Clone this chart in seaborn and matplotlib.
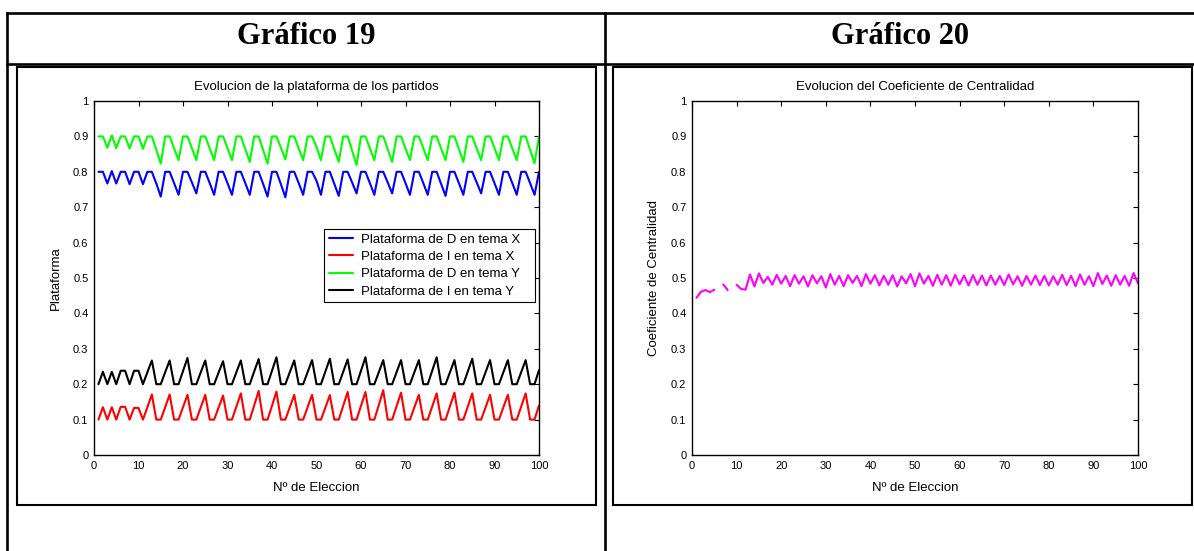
import numpy as np
import pandas as pd
import matplotlib
matplotlib.use("Agg")
import matplotlib.pyplot as plt
import seaborn as sns
from matplotlib.lines import Line2D
from matplotlib.patches import Rectangle

# ---------------- data ----------------
elecciones = list(range(1, 101))

plat_D_X = [0.800, 0.800, 0.767, 0.802, 0.767, 0.800, 0.800, 0.765, 0.800, 0.800,
            0.765, 0.800, 0.800, 0.767, 0.730, 0.800, 0.800, 0.768, 0.735, 0.800,
            0.800, 0.770, 0.739, 0.800, 0.800, 0.768, 0.735, 0.800, 0.800, 0.768,
            0.735, 0.800, 0.800, 0.768, 0.735, 0.800, 0.800, 0.766, 0.730, 0.800,
            0.800, 0.765, 0.728, 0.800, 0.800, 0.768, 0.735, 0.800, 0.800, 0.775,
            0.735, 0.800, 0.800, 0.766, 0.732, 0.800, 0.800, 0.770, 0.739, 0.800,
            0.800, 0.768, 0.735, 0.800, 0.800, 0.770, 0.739, 0.800, 0.800, 0.768,
            0.735, 0.800, 0.800, 0.768, 0.735, 0.800, 0.800, 0.766, 0.732, 0.800,
            0.800, 0.768, 0.735, 0.800, 0.800, 0.770, 0.739, 0.800, 0.800, 0.768,
            0.735, 0.800, 0.800, 0.768, 0.735, 0.800, 0.800, 0.768, 0.735, 0.800]

plat_I_X = [0.100, 0.135, 0.100, 0.135, 0.100, 0.136, 0.136, 0.100, 0.133, 0.133,
            0.100, 0.135, 0.171, 0.100, 0.100, 0.135, 0.171, 0.100, 0.100, 0.135,
            0.170, 0.100, 0.100, 0.135, 0.170, 0.100, 0.100, 0.134, 0.168, 0.100,
            0.100, 0.137, 0.174, 0.100, 0.100, 0.140, 0.181, 0.100, 0.100, 0.139,
            0.179, 0.100, 0.100, 0.135, 0.170, 0.100, 0.100, 0.135, 0.170, 0.100,
            0.100, 0.134, 0.169, 0.100, 0.100, 0.139, 0.178, 0.100, 0.100, 0.139,
            0.178, 0.100, 0.100, 0.141, 0.183, 0.100, 0.100, 0.138, 0.176, 0.100,
            0.100, 0.135, 0.170, 0.100, 0.100, 0.137, 0.174, 0.100, 0.100, 0.138,
            0.176, 0.100, 0.100, 0.137, 0.174, 0.100, 0.100, 0.135, 0.170, 0.100,
            0.100, 0.135, 0.170, 0.100, 0.100, 0.137, 0.174, 0.100, 0.100, 0.140]

plat_D_Y = [0.900, 0.900, 0.868, 0.903, 0.867, 0.900, 0.900, 0.866, 0.900, 0.900,
            0.865, 0.900, 0.900, 0.862, 0.823, 0.900, 0.900, 0.866, 0.833, 0.900,
            0.900, 0.867, 0.833, 0.900, 0.900, 0.866, 0.833, 0.900, 0.900, 0.867,
            0.833, 0.900, 0.900, 0.864, 0.828, 0.900, 0.900, 0.862, 0.823, 0.900,
            0.900, 0.868, 0.835, 0.900, 0.900, 0.866, 0.833, 0.900, 0.900, 0.870,
            0.833, 0.900, 0.900, 0.864, 0.828, 0.900, 0.900, 0.860, 0.819, 0.900,
            0.900, 0.866, 0.833, 0.900, 0.900, 0.864, 0.828, 0.900, 0.900, 0.866,
            0.833, 0.900, 0.900, 0.867, 0.833, 0.900, 0.900, 0.866, 0.833, 0.900,
            0.900, 0.864, 0.828, 0.900, 0.900, 0.866, 0.833, 0.900, 0.900, 0.867,
            0.833, 0.900, 0.900, 0.866, 0.833, 0.900, 0.900, 0.862, 0.824, 0.900]

plat_I_Y = [0.200, 0.235, 0.200, 0.235, 0.200, 0.238, 0.238, 0.200, 0.238, 0.238,
            0.200, 0.234, 0.267, 0.200, 0.200, 0.234, 0.267, 0.200, 0.200, 0.237,
            0.274, 0.200, 0.200, 0.234, 0.267, 0.200, 0.200, 0.233, 0.265, 0.200,
            0.200, 0.234, 0.267, 0.200, 0.200, 0.236, 0.271, 0.200, 0.200, 0.238,
            0.276, 0.200, 0.200, 0.234, 0.267, 0.200, 0.200, 0.234, 0.268, 0.200,
            0.200, 0.236, 0.272, 0.200, 0.200, 0.235, 0.270, 0.200, 0.200, 0.238,
            0.276, 0.200, 0.200, 0.234, 0.268, 0.200, 0.200, 0.234, 0.268, 0.200,
            0.200, 0.234, 0.268, 0.200, 0.200, 0.238, 0.276, 0.200, 0.200, 0.234,
            0.268, 0.200, 0.200, 0.236, 0.272, 0.200, 0.200, 0.234, 0.268, 0.200,
            0.200, 0.234, 0.268, 0.200, 0.200, 0.234, 0.268, 0.200, 0.200, 0.240]

centralidad = [0.444, 0.461, 0.466, 0.460, 0.467, np.nan, 0.482, 0.466, np.nan, 0.481,
               0.469, 0.467, 0.510, 0.476, 0.513, 0.486, 0.503, 0.481, 0.509, 0.484,
               0.506, 0.477, 0.508, 0.484, 0.505, 0.476, 0.508, 0.485, 0.505, 0.473,
               0.511, 0.481, 0.506, 0.477, 0.508, 0.486, 0.506, 0.477, 0.511, 0.484,
               0.508, 0.479, 0.506, 0.481, 0.508, 0.476, 0.505, 0.485, 0.511, 0.477,
               0.513, 0.484, 0.506, 0.478, 0.509, 0.481, 0.508, 0.478, 0.509, 0.482,
               0.507, 0.479, 0.508, 0.481, 0.507, 0.479, 0.507, 0.481, 0.506, 0.480,
               0.510, 0.482, 0.505, 0.478, 0.506, 0.481, 0.507, 0.480, 0.506, 0.479,
               0.505, 0.481, 0.509, 0.480, 0.506, 0.477, 0.510, 0.481, 0.505, 0.477,
               0.514, 0.483, 0.507, 0.478, 0.508, 0.481, 0.506, 0.478, 0.514, 0.485]

series_labels = ["Plataforma de D en tema X", "Plataforma de I en tema X",
                 "Plataforma de D en tema Y", "Plataforma de I en tema Y"]
series_colors = ["#0000ff", "#ff0000", "#00ff00", "#000000"]
x_ticks = [0, 10, 20, 30, 40, 50, 60, 70, 80, 90, 100]
y_ticks = [0, 0.1, 0.2, 0.3, 0.4, 0.5, 0.6, 0.7, 0.8, 0.9, 1.0]
y_tick_labels = ["0", "0.1", "0.2", "0.3", "0.4", "0.5", "0.6", "0.7", "0.8", "0.9", "1"]
x_tick_labels = [str(v) for v in x_ticks]

# ---------------- style ----------------
sns.set_style("white")
plt.rcParams['font.family'] = ['Liberation Sans', 'DejaVu Sans']
plt.rcParams['axes.linewidth'] = 1.0
plt.rcParams['axes.edgecolor'] = 'black'
plt.rcParams['text.color'] = 'black'
plt.rcParams['axes.labelcolor'] = 'black'
plt.rcParams['xtick.color'] = 'black'
plt.rcParams['ytick.color'] = 'black'

W, H = 1194, 551
fig = plt.figure(figsize=(W / 100, H / 100), dpi=100)
fig.patch.set_facecolor('white')


def fx(x):
    return x / W


def fy(y):
    return 1 - y / H


# table lines
tlw = 1.9
for (x0, y0, x1, y1) in [(7, 13, 1194, 13), (7, 64, 1194, 64),
                         (7, 13, 7, 551), (605, 13, 605, 551)]:
    fig.add_artist(Line2D([fx(x0), fx(x1)], [fy(y0), fy(y1)], color='black',
                          lw=tlw, transform=fig.transFigure, solid_capstyle='projecting'))

# figure boxes inside cells
for (x0, y0, x1, y1) in [(17, 67, 596, 505), (613, 67, 1192, 505)]:
    fig.add_artist(Rectangle((fx(x0), fy(y1)), fx(x1) - fx(x0), fy(y0) - fy(y1),
                             fill=False, edgecolor='black', lw=1.5,
                             transform=fig.transFigure))

# header texts
for cx, txt in [(306, "Gráfico 19"), (900, "Gráfico 20")]:
    fig.text(fx(cx), fy(37), txt, ha='center', va='center', color='black',
             family=['Liberation Serif', 'DejaVu Serif'], weight='bold', size=22)

# axes
ax1 = fig.add_axes([fx(94), fy(455), (539 - 94) / W, (455 - 101) / H])
ax2 = fig.add_axes([fx(692), fy(455), (1138 - 692) / W, (455 - 101) / H])

# left plot data
long = pd.DataFrame({
    "eleccion": elecciones * 4,
    "valor": plat_D_X + plat_I_X + plat_D_Y + plat_I_Y,
    "serie": sum([[lab] * len(elecciones) for lab in series_labels], []),
})
sns.lineplot(data=long, x="eleccion", y="valor", hue="serie",
             hue_order=series_labels, palette=dict(zip(series_labels, series_colors)),
             lw=1.5, ax=ax1, estimator=None)

# right plot data: split into segments at missing values
cent = pd.DataFrame({"eleccion": elecciones, "centralidad": centralidad})
cent["seg"] = cent["centralidad"].isna().cumsum()
sns.lineplot(data=cent, x="eleccion", y="centralidad", units="seg", estimator=None,
             color="#ff00ff", lw=1.5, ax=ax2, legend=False)

fs_text = 9.5
fs_tick = 8
for ax, title, ylab in [(ax1, "Evolucion de la plataforma de los partidos", "Plataforma"),
                        (ax2, "Evolucion del Coeficiente de Centralidad",
                         "Coeficiente de Centralidad")]:
    ax.set_xlim(0, 100)
    ax.set_ylim(0, 1)
    ax.set_xticks(x_ticks)
    ax.set_xticklabels(x_tick_labels)
    ax.set_yticks(y_ticks)
    ax.set_yticklabels(y_tick_labels)
    ax.tick_params(direction='in', top=True, right=True, length=3.5, width=0.8,
                   labelsize=fs_tick, pad=4, colors='black')
    for sp in ax.spines.values():
        sp.set_visible(True)
        sp.set_color('black')
        sp.set_linewidth(1.0)
    ax.set_title(title, fontsize=fs_text, pad=8, color='black')
    ax.set_xlabel("Nº de Eleccion", fontsize=fs_text)
    ax.set_ylabel(ylab, fontsize=fs_text)
    ax.xaxis.set_label_coords(0.5, -0.077)
    ax.yaxis.set_label_coords(-0.072, 0.5)
    ax.set_facecolor('white')

leg_x0 = (324 - 94) / 445
leg_w = (535 - 324) / 445
leg_top = (455 - 229) / 354
leg = ax1.legend(loc='upper left', bbox_to_anchor=(leg_x0, 0, leg_w, leg_top),
                 mode='expand', borderaxespad=0, frameon=True, fancybox=False,
                 edgecolor='black', framealpha=1, fontsize=fs_text,
                 handlelength=1.82, handletextpad=0.6, labelspacing=0.38,
                 borderpad=0.35)
leg.get_frame().set_linewidth(0.8)
for h in leg.get_lines():
    h.set_linewidth(1.5)

fig.savefig("out.png", dpi=100, facecolor='white')
